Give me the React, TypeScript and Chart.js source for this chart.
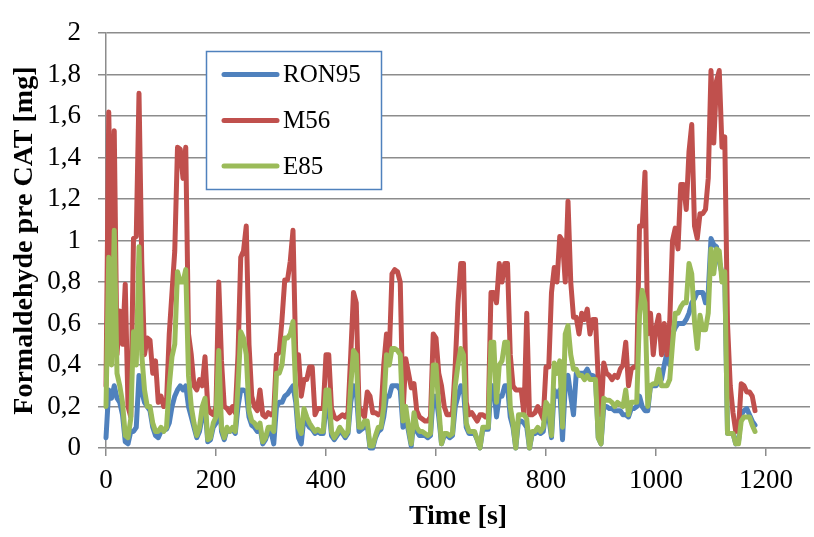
import React, { useEffect, useRef } from 'react';
import { Chart, registerables } from 'chart.js';

Chart.register(...registerables);

const TIME = [
  0, 5, 10, 15, 20, 25, 30, 35, 40, 45,
  50, 55, 60, 65, 70, 75, 80, 85, 90, 95,
  100, 105, 110, 115, 120, 125, 130, 135, 140, 145,
  150, 155, 160, 165, 170, 175, 180, 185, 190, 195,
  200, 205, 210, 215, 220, 225, 230, 235, 240, 245,
  250, 255, 260, 265, 270, 275, 280, 285, 290, 295,
  300, 305, 310, 315, 320, 325, 330, 335, 340, 345,
  350, 355, 360, 365, 370, 375, 380, 385, 390, 395,
  400, 405, 410, 415, 420, 425, 430, 435, 440, 445,
  450, 455, 460, 465, 470, 475, 480, 485, 490, 495,
  500, 505, 510, 515, 520, 525, 530, 535, 540, 545,
  550, 555, 560, 565, 570, 575, 580, 585, 590, 595,
  600, 605, 610, 615, 620, 625, 630, 635, 640, 645,
  650, 655, 660, 665, 670, 675, 680, 685, 690, 695,
  700, 705, 710, 715, 720, 725, 730, 735, 740, 745,
  750, 755, 760, 765, 770, 775, 780, 785, 790, 795,
  800, 805, 810, 815, 820, 825, 830, 835, 840, 845,
  850, 855, 860, 865, 870, 875, 880, 885, 890, 895,
  900, 905, 910, 915, 920, 925, 930, 935, 940, 945,
  950, 955, 960, 965, 970, 975, 980, 985, 990, 995,
  1000, 1005, 1010, 1015, 1020, 1025, 1030, 1035, 1040, 1045,
  1050, 1055, 1060, 1065, 1070, 1075, 1080, 1085, 1090, 1095,
  1100, 1105, 1110, 1115, 1120, 1125, 1130, 1135, 1140, 1145,
  1150, 1155, 1160, 1165, 1170, 1175, 1180,
];

const M56 = [
  0.30, 1.62, 0.90, 1.53, 0.45, 0.66, 0.50, 0.79, 0.20, 0.15,
  1.01, 1.02, 1.71, 0.90, 0.45, 0.53, 0.52, 0.36, 0.42, 0.22,
  0.25, 0.20, 0.22, 0.55, 0.75, 0.95, 1.45, 1.44, 1.30, 1.45,
  0.55, 0.45, 0.30, 0.28, 0.33, 0.30, 0.44, 0.20, 0.17, 0.16,
  0.20, 0.80, 0.42, 0.20, 0.19, 0.17, 0.20, 0.17, 0.45, 0.92,
  0.95, 1.07, 0.50, 0.25, 0.20, 0.18, 0.28, 0.16, 0.15, 0.17,
  0.16, 0.17, 0.45, 0.46, 0.62, 0.81, 0.81, 0.90, 1.05, 0.45,
  0.45, 0.25, 0.33, 0.33, 0.39, 0.39, 0.16, 0.19, 0.19, 0.19,
  0.45, 0.45, 0.19, 0.15, 0.14, 0.15, 0.16, 0.15, 0.17, 0.45,
  0.75, 0.70, 0.20, 0.17, 0.15, 0.27, 0.25, 0.17, 0.17, 0.16,
  0.17, 0.40, 0.55, 0.45, 0.84, 0.86, 0.85, 0.80, 0.17, 0.43,
  0.36, 0.29, 0.31, 0.18, 0.15, 0.14, 0.13, 0.13, 0.15, 0.55,
  0.53, 0.36, 0.30, 0.20, 0.16, 0.16, 0.17, 0.40, 0.70, 0.89,
  0.89, 0.22, 0.16, 0.17, 0.15, 0.13, 0.16, 0.16, 0.15, 0.16,
  0.75, 0.75, 0.70, 0.89, 0.80, 0.89, 0.89, 0.45, 0.30, 0.28,
  0.28, 0.28, 0.16, 0.65, 0.16, 0.16, 0.17, 0.20, 0.17, 0.14,
  0.39, 0.39, 0.75, 0.87, 0.80, 1.02, 1.00, 0.80, 1.19, 0.80,
  0.63, 0.63, 0.55, 0.65, 0.62, 0.67, 0.55, 0.62, 0.62, 0.33,
  0.16, 0.41, 0.36, 0.35, 0.33, 0.35, 0.34, 0.38, 0.40, 0.51,
  0.30, 0.38, 0.39, 0.39, 1.07, 1.07, 1.33, 0.55, 0.65, 0.45,
  0.58, 0.64, 0.45, 0.60, 0.45, 0.61, 1.00, 1.06, 0.96, 1.27,
  1.27, 1.15, 1.43, 1.56, 1.07, 1.01, 1.13, 1.13, 1.15, 1.30,
  1.82, 1.47, 1.77, 1.82, 1.45, 1.50, 0.60, 0.30, 0.17, 0.08,
  0.09, 0.31, 0.30, 0.27, 0.27, 0.25, 0.18,
];

const E85 = [
  0.20, 0.92, 0.40, 1.05, 0.36, 0.30, 0.22, 0.06, 0.05, 0.14,
  0.56, 0.40, 0.97, 0.45, 0.28, 0.20, 0.20, 0.12, 0.08, 0.08,
  0.10, 0.08, 0.10, 0.30, 0.44, 0.50, 0.85, 0.80, 0.80, 0.86,
  0.35, 0.20, 0.12, 0.06, 0.10, 0.20, 0.24, 0.04, 0.05, 0.12,
  0.15, 0.47, 0.10, 0.05, 0.10, 0.08, 0.10, 0.08, 0.30, 0.56,
  0.53, 0.45, 0.18, 0.13, 0.12, 0.10, 0.12, 0.03, 0.05, 0.10,
  0.10, 0.08, 0.36, 0.36, 0.40, 0.53, 0.53, 0.55, 0.61, 0.27,
  0.10, 0.07, 0.19, 0.15, 0.12, 0.10, 0.08, 0.09, 0.08, 0.08,
  0.28, 0.28, 0.08, 0.05, 0.07, 0.10, 0.08, 0.06, 0.08, 0.30,
  0.47, 0.45, 0.10, 0.10, 0.13, 0.13, 0.01, 0.01, 0.06, 0.10,
  0.10, 0.20, 0.45, 0.40, 0.48, 0.48, 0.47, 0.45, 0.13, 0.20,
  0.10, 0.02, 0.17, 0.10, 0.08, 0.08, 0.07, 0.06, 0.07, 0.40,
  0.40, 0.20, 0.02, 0.07, 0.07, 0.06, 0.07, 0.30, 0.40, 0.48,
  0.45, 0.12, 0.08, 0.08, 0.08, 0.04, 0.00, 0.10, 0.10, 0.10,
  0.51, 0.51, 0.22, 0.40, 0.42, 0.51, 0.51, 0.20, 0.12, 0.00,
  0.16, 0.16, 0.16, 0.14, 0.00, 0.08, 0.08, 0.10, 0.08, 0.10,
  0.22, 0.20, 0.06, 0.41, 0.36, 0.42, 0.10, 0.55, 0.59, 0.45,
  0.38, 0.38, 0.35, 0.35, 0.33, 0.35, 0.33, 0.33, 0.33, 0.05,
  0.02, 0.24, 0.23, 0.23, 0.22, 0.20, 0.22, 0.21, 0.20, 0.28,
  0.16, 0.22, 0.22, 0.22, 0.64, 0.76, 0.70, 0.20, 0.30, 0.31,
  0.31, 0.38, 0.30, 0.30, 0.30, 0.33, 0.50, 0.65, 0.65, 0.68,
  0.70, 0.70, 0.89, 0.84, 0.61, 0.48, 0.64, 0.57, 0.57, 0.65,
  0.96, 0.84, 0.96, 0.95, 0.80, 0.85, 0.07, 0.07, 0.07, 0.02,
  0.02, 0.13, 0.15, 0.15, 0.15, 0.11, 0.08,
];

const RON95 = [
  0.05, 0.28, 0.24, 0.30, 0.24, 0.22, 0.16, 0.03, 0.02, 0.08,
  0.08, 0.10, 0.35, 0.27, 0.22, 0.20, 0.18, 0.10, 0.06, 0.05,
  0.08, 0.09, 0.09, 0.12, 0.20, 0.25, 0.28, 0.30, 0.28, 0.30,
  0.20, 0.15, 0.10, 0.05, 0.08, 0.15, 0.20, 0.03, 0.04, 0.10,
  0.12, 0.30, 0.08, 0.04, 0.09, 0.08, 0.09, 0.07, 0.20, 0.28,
  0.28, 0.27, 0.15, 0.11, 0.10, 0.08, 0.10, 0.02, 0.04, 0.08,
  0.08, 0.02, 0.20, 0.22, 0.22, 0.25, 0.26, 0.28, 0.30, 0.22,
  0.05, 0.02, 0.15, 0.12, 0.10, 0.09, 0.07, 0.08, 0.07, 0.07,
  0.20, 0.20, 0.06, 0.04, 0.06, 0.08, 0.07, 0.05, 0.07, 0.22,
  0.30, 0.28, 0.08, 0.09, 0.10, 0.11, 0.00, 0.00, 0.05, 0.08,
  0.09, 0.15, 0.25, 0.25, 0.30, 0.30, 0.30, 0.28, 0.10, 0.15,
  0.08, 0.01, 0.14, 0.08, 0.06, 0.06, 0.06, 0.05, 0.06, 0.25,
  0.25, 0.15, 0.02, 0.06, 0.06, 0.05, 0.06, 0.20, 0.25, 0.30,
  0.28, 0.10, 0.07, 0.07, 0.07, 0.04, 0.00, 0.09, 0.09, 0.09,
  0.30, 0.30, 0.15, 0.25, 0.25, 0.30, 0.30, 0.15, 0.10, 0.00,
  0.13, 0.13, 0.12, 0.10, 0.00, 0.07, 0.07, 0.08, 0.07, 0.08,
  0.18, 0.15, 0.05, 0.28, 0.25, 0.28, 0.04, 0.30, 0.35, 0.25,
  0.16, 0.36, 0.36, 0.36, 0.36, 0.38, 0.35, 0.35, 0.34, 0.05,
  0.02, 0.20, 0.20, 0.19, 0.19, 0.18, 0.18, 0.18, 0.16, 0.16,
  0.15, 0.19, 0.19, 0.20, 0.25, 0.20, 0.18, 0.18, 0.30, 0.30,
  0.30, 0.32, 0.33, 0.40, 0.46, 0.40, 0.55, 0.58, 0.60, 0.60,
  0.60, 0.62, 0.65, 0.70, 0.72, 0.75, 0.75, 0.75, 0.70, 0.75,
  1.01, 0.98, 0.97, 0.90, 0.84, 0.84, 0.07, 0.07, 0.07, 0.02,
  0.03, 0.16, 0.18, 0.19, 0.16, 0.13, 0.11,
];

const SERIES_NAMES = ['RON95', 'M56', 'E85'];
const SERIES_COLORS = ['#4F81BD', '#C0504D', '#9BBB59'];
const X_TICKS = [0, 200, 400, 600, 800, 1000, 1200];
const X_TITLE = 'Time [s]';
const Y_TITLE = 'Formaldehyde pre CAT [mg]';

const GRID = '#8c8c8c';
const SERIF = "'Liberation Serif', 'Times New Roman', serif";

const boxLegend = {
  id: 'boxLegend',
  afterDraw(chart: any) {
    const ctx = chart.ctx as CanvasRenderingContext2D;
    const left = 206, top = 51, w = 175, h = 138;
    const rowsY = [74.5, 120.5, 166];
    ctx.save();
    ctx.fillStyle = '#ffffff';
    ctx.fillRect(left, top, w, h);
    ctx.strokeStyle = '#4F81BD';
    ctx.lineWidth = 1.5;
    ctx.strokeRect(left + 0.5, top + 0.5, w, h);
    SERIES_NAMES.forEach((name, i) => {
      const y = rowsY[i];
      ctx.strokeStyle = SERIES_COLORS[i];
      ctx.lineWidth = 5;
      ctx.lineCap = 'round';
      ctx.beginPath();
      ctx.moveTo(224, y);
      ctx.lineTo(277, y);
      ctx.stroke();
      ctx.fillStyle = '#000000';
      ctx.font = `25px ${SERIF}`;
      ctx.textBaseline = 'middle';
      ctx.textAlign = 'left';
      ctx.fillText(name, 283, y + 1);
    });
    ctx.restore();
  },
};

export default function App() {
  const canvasRef = useRef<HTMLCanvasElement | null>(null);

  useEffect(() => {
    document.body.style.margin = '0';
    const canvas = canvasRef.current;
    if (!canvas) return;
    const values = [RON95, M56, E85];
    const chart = new Chart(canvas, {
      type: 'line',
      data: {
        datasets: SERIES_NAMES.map((name, i) => ({
          label: name,
          data: TIME.map((t, k) => ({ x: t, y: values[i][k] })),
          borderColor: SERIES_COLORS[i],
          backgroundColor: SERIES_COLORS[i],
          borderWidth: 5,
          pointRadius: 0,
          tension: 0,
          borderJoinStyle: 'round' as const,
          borderCapStyle: 'round' as const,
          fill: false,
          clip: false as any,
          order: 2 - i,
        })),
      },
      options: {
        responsive: true,
        maintainAspectRatio: false,
        animation: false,
        layout: { padding: { left: 0, right: 4, top: 16, bottom: 0 } },
        plugins: {
          legend: { display: false },
          tooltip: { enabled: false },
        },
        scales: {
          x: {
            type: 'linear',
            min: 0,
            max: 1280,
            afterBuildTicks: (scale: any) => {
              scale.ticks = X_TICKS.map((v) => ({ value: v }));
            },
            afterFit: (scale: any) => {
              scale.height = 89;
            },
            ticks: {
              stepSize: 200,
              padding: 9,
              color: '#000000',
              font: { family: SERIF, size: 27 },
              maxRotation: 0,
              callback: (v: any) => String(Math.round(Number(v))),
            },
            grid: {
              drawOnChartArea: false,
              drawTicks: true,
              tickLength: 8,
              color: GRID,
              lineWidth: 1.5,
            },
            border: { display: true, color: GRID, width: 1.5 },
            title: {
              display: true,
              text: X_TITLE,
              color: '#000000',
              font: { family: SERIF, size: 28, weight: 'bold' },
              padding: { top: 0, bottom: 3 },
            },
          },
          y: {
            type: 'linear',
            min: 0,
            max: 2,
            afterFit: (scale: any) => {
              scale.width = 106;
            },
            ticks: {
              stepSize: 0.2,
              padding: 17,
              color: '#000000',
              font: { family: SERIF, size: 27 },
              callback: (v: any) => {
                const n = Math.round(Number(v) * 10) / 10;
                return Number.isInteger(n) ? String(n) : n.toFixed(1).replace('.', ',');
              },
            },
            grid: {
              drawTicks: true,
              tickLength: 8,
              color: GRID,
              lineWidth: 1.5,
            },
            border: { display: true, color: GRID, width: 1.5 },
            title: {
              display: true,
              text: Y_TITLE,
              color: '#000000',
              font: { family: SERIF, size: 28, weight: 'bold' },
              padding: { top: 8, bottom: 0 },
            },
          },
        },
      },
      plugins: [boxLegend],
    });
    return () => chart.destroy();
  }, []);

  return (
    <div style={{ position: 'absolute', left: 0, top: 0, width: 814, height: 537 }}>
      <canvas ref={canvasRef} />
    </div>
  );
}
